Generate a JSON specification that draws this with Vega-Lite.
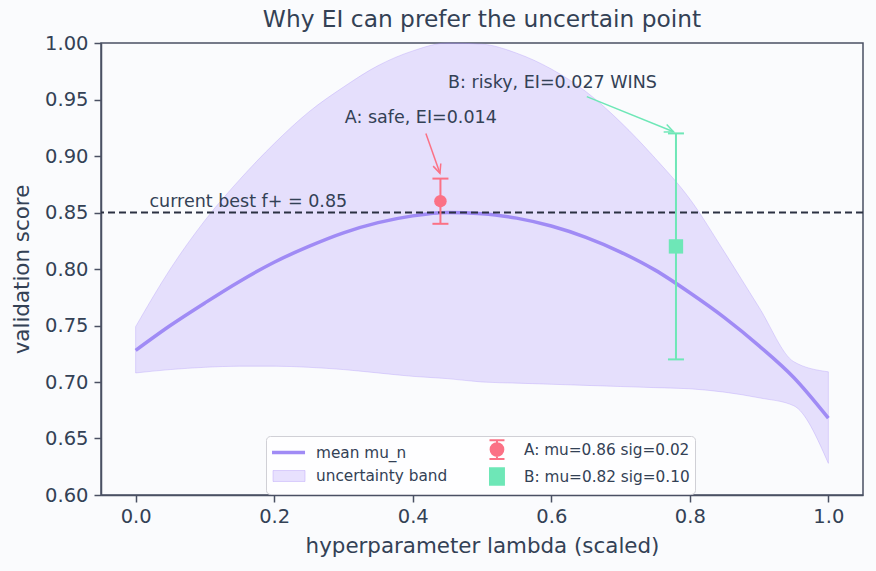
{
  "$schema": "https://vega.github.io/schema/vega-lite/v6.json",
  "width": 762,
  "height": 452,
  "autosize": {"type": "none"},
  "padding": {"left": 101, "top": 43, "right": 13, "bottom": 76},
  "background": "#fafbfd",
  "title": {
    "text": "Why EI can prefer the uncertain point",
    "font": "DejaVu Sans",
    "fontSize": 23.3,
    "fontWeight": "normal",
    "color": "#334155",
    "frame": "group",
    "anchor": "middle",
    "baseline": "bottom",
    "offset": 8,
    "dy": 30
  },
  "resolve": {"legend": {"color": "independent"}},
  "config": {
    "view": {"stroke": "#4a5063", "strokeWidth": 1.5},
    "font": "DejaVu Sans",
    "axis": {
      "grid": false,
      "domainColor": "#4a5063",
      "domainWidth": 1.5,
      "tickColor": "#4a5063",
      "tickWidth": 1.5,
      "tickSize": 7,
      "labelColor": "#334155",
      "titleColor": "#334155",
      "labelFont": "DejaVu Sans",
      "titleFont": "DejaVu Sans",
      "labelFontSize": 19.5,
      "titleFontSize": 21.4,
      "titleFontWeight": "normal",
      "labelOverlap": false,
      "labelFlush": false
    },
    "legend": {
      "orient": "none",
      "legendX": 165,
      "legendY": 393,
      "columns": 2,
      "columnPadding": 31,
      "rowPadding": 1,
      "padding": 5,
      "symbolSize": 225,
      "symbolOpacity": 1,
      "labelOffset": 26,
      "labelLimit": 400,
      "labelFont": "DejaVu Sans",
      "labelFontSize": 15.3,
      "labelColor": "#334155",
      "fillColor": "rgba(255,255,255,0.8)",
      "strokeColor": "#d0d0d6",
      "cornerRadius": 4
    }
  },
  "datasets": {
    "curve": [
      {"x": 0.00, "mu": 0.728, "hi": 0.749, "lo": 0.708},
      {"x": 0.05, "mu": 0.750, "hi": 0.800, "lo": 0.711},
      {"x": 0.10, "mu": 0.770, "hi": 0.843, "lo": 0.713},
      {"x": 0.15, "mu": 0.789, "hi": 0.879, "lo": 0.714},
      {"x": 0.20, "mu": 0.806, "hi": 0.911, "lo": 0.714},
      {"x": 0.25, "mu": 0.820, "hi": 0.939, "lo": 0.713},
      {"x": 0.30, "mu": 0.832, "hi": 0.961, "lo": 0.711},
      {"x": 0.35, "mu": 0.841, "hi": 0.980, "lo": 0.708},
      {"x": 0.40, "mu": 0.847, "hi": 0.993, "lo": 0.705},
      {"x": 0.45, "mu": 0.850, "hi": 1.000, "lo": 0.703},
      {"x": 0.50, "mu": 0.849, "hi": 0.999, "lo": 0.700},
      {"x": 0.55, "mu": 0.845, "hi": 0.991, "lo": 0.699},
      {"x": 0.60, "mu": 0.838, "hi": 0.977, "lo": 0.698},
      {"x": 0.65, "mu": 0.828, "hi": 0.957, "lo": 0.697},
      {"x": 0.70, "mu": 0.815, "hi": 0.930, "lo": 0.696},
      {"x": 0.75, "mu": 0.799, "hi": 0.898, "lo": 0.695},
      {"x": 0.80, "mu": 0.779, "hi": 0.862, "lo": 0.694},
      {"x": 0.85, "mu": 0.757, "hi": 0.815, "lo": 0.691},
      {"x": 0.90, "mu": 0.732, "hi": 0.766, "lo": 0.686},
      {"x": 0.95, "mu": 0.704, "hi": 0.718, "lo": 0.679},
      {"x": 1.00, "mu": 0.668, "hi": 0.709, "lo": 0.628}
    ],
    "obs": [
      {"x": 0.44, "mu": 0.86, "lo": 0.84, "hi": 0.88, "series": "A: mu=0.86 sig=0.02"},
      {"x": 0.78, "mu": 0.82, "lo": 0.72, "hi": 0.92, "series": "B: mu=0.82 sig=0.10"}
    ],
    "legendrows": [
      {"series": "mean mu_n"},
      {"series": "uncertainty band"},
      {"series": "A: mu=0.86 sig=0.02"},
      {"series": "B: mu=0.82 sig=0.10"}
    ],
    "notes": [
      {"x": 0.302, "y": 0.934, "label": "A: safe, EI=0.014"},
      {"x": 0.451, "y": 0.965, "label": "B: risky, EI=0.027 WINS"},
      {"x": 0.02, "y": 0.859, "label": "current best f+ = 0.85"}
    ],
    "arrows": [
      {"who": "A", "x0": 0.419, "y0": 0.920, "x1": 0.4393, "y1": 0.8847, "series": "A: mu=0.86 sig=0.02"},
      {"who": "B", "x0": 0.6513, "y0": 0.9525, "x1": 0.7765, "y1": 0.9215, "series": "B: mu=0.82 sig=0.10"}
    ],
    "best": [{"f": 0.85}]
  },
  "layer": [
    {
      "data": {"name": "curve"},
      "mark": {"type": "area", "interpolate": "monotone", "color": "#a78bfa", "fillOpacity": 0.25, "stroke": "#a78bfa", "strokeOpacity": 0.3, "strokeWidth": 1},
      "encoding": {
        "x": {
          "field": "x", "type": "quantitative", "title": "hyperparameter lambda (scaled)",
          "scale": {"domain": [-0.05, 1.05], "nice": false, "zero": false},
          "axis": {"values": [0, 0.2, 0.4, 0.6, 0.8, 1.0], "format": ".1f", "labelPadding": 5, "titlePadding": 10}
        },
        "y": {
          "field": "lo", "type": "quantitative", "title": "validation score",
          "scale": {"domain": [0.6, 1.0], "nice": false, "zero": false},
          "axis": {"values": [0.6, 0.65, 0.7, 0.75, 0.8, 0.85, 0.9, 0.95, 1.0], "format": ".2f", "labelPadding": 6, "titlePadding": 12}
        },
        "y2": {"field": "hi"}
      }
    },
    {
      "data": {"name": "curve"},
      "mark": {"type": "line", "interpolate": "monotone", "color": "#a08bf5", "strokeWidth": 3.5},
      "encoding": {
        "x": {"field": "x", "type": "quantitative", "title": "hyperparameter lambda (scaled)"},
        "y": {"field": "mu", "type": "quantitative", "title": "validation score"}
      }
    },
    {
      "data": {"name": "best"},
      "mark": {"type": "rule", "color": "#2b3142", "strokeWidth": 2, "strokeDash": [7, 4]},
      "encoding": {
        "y": {"field": "f", "type": "quantitative", "title": "validation score"}
      }
    },
    {
      "data": {"name": "obs"},
      "mark": {"type": "rule", "strokeWidth": 2, "opacity": 1},
      "encoding": {
        "x": {"field": "x", "type": "quantitative", "title": "hyperparameter lambda (scaled)"},
        "y": {"field": "lo", "type": "quantitative", "title": "validation score"},
        "y2": {"field": "hi"},
        "color": {"field": "series", "type": "nominal", "legend": null,
          "scale": {"domain": ["A: mu=0.86 sig=0.02", "B: mu=0.82 sig=0.10"], "range": ["#fb7185", "#6ee7b7"]}}
      }
    },
    {
      "data": {"name": "obs"},
      "mark": {"type": "tick", "orient": "horizontal", "size": 16, "thickness": 2, "opacity": 1},
      "encoding": {
        "x": {"field": "x", "type": "quantitative", "title": "hyperparameter lambda (scaled)"},
        "y": {"field": "lo", "type": "quantitative", "title": "validation score"},
        "color": {"field": "series", "type": "nominal", "legend": null}
      }
    },
    {
      "data": {"name": "obs"},
      "mark": {"type": "tick", "orient": "horizontal", "size": 16, "thickness": 2, "opacity": 1},
      "encoding": {
        "x": {"field": "x", "type": "quantitative", "title": "hyperparameter lambda (scaled)"},
        "y": {"field": "hi", "type": "quantitative", "title": "validation score"},
        "color": {"field": "series", "type": "nominal", "legend": null}
      }
    },
    {
      "data": {"name": "obs"},
      "transform": [{"filter": "datum.series === 'B: mu=0.82 sig=0.10'"}],
      "mark": {"type": "point", "filled": true, "shape": "square", "size": 206, "opacity": 1},
      "encoding": {
        "x": {"field": "x", "type": "quantitative", "title": "hyperparameter lambda (scaled)"},
        "y": {"field": "mu", "type": "quantitative", "title": "validation score"},
        "color": {"field": "series", "type": "nominal", "legend": null}
      }
    },
    {
      "data": {"name": "obs"},
      "transform": [{"filter": "datum.series === 'A: mu=0.86 sig=0.02'"}],
      "mark": {"type": "point", "filled": true, "shape": "circle", "size": 156, "opacity": 1},
      "encoding": {
        "x": {"field": "x", "type": "quantitative", "title": "hyperparameter lambda (scaled)"},
        "y": {"field": "mu", "type": "quantitative", "title": "validation score"},
        "color": {"field": "series", "type": "nominal", "legend": null}
      }
    },
    {
      "data": {"name": "legendrows"},
      "mark": {"type": "point", "filled": true, "opacity": 0},
      "encoding": {
        "fill": {"field": "series", "type": "nominal", "title": null,
          "scale": {"domain": ["mean mu_n", "uncertainty band", "A: mu=0.86 sig=0.02", "B: mu=0.82 sig=0.10"], "range": ["transparent", "rgba(167,139,250,0.25)", "#fb7185", "#6ee7b7"]}},
        "stroke": {"field": "series", "type": "nominal", "title": null,
          "scale": {"domain": ["mean mu_n", "uncertainty band", "A: mu=0.86 sig=0.02", "B: mu=0.82 sig=0.10"], "range": ["#a08bf5", "rgba(167,139,250,0.35)", "#fb7185", "#6ee7b7"]}},
        "shape": {"field": "series", "type": "nominal", "title": null,
          "scale": {"domain": ["mean mu_n", "uncertainty band", "A: mu=0.86 sig=0.02", "B: mu=0.82 sig=0.10"], "range": ["M-1.13,0H3.27", "M-1,-0.73H3.27V0.73H-1Z", "M1.98,0A0.85,0.85 0 1,1 0.28,0A0.85,0.85 0 1,1 1.98,0Z M1.13,-1.25V1.25 M0.13,-1.25H2.13 M0.13,1.25H2.13", "M0.2,-1.1H2.06V1.1H0.2Z"]}},
        "strokeWidth": {"field": "series", "type": "nominal", "title": null,
          "scale": {"type": "ordinal", "domain": ["mean mu_n", "uncertainty band", "A: mu=0.86 sig=0.02", "B: mu=0.82 sig=0.10"], "range": [3.5, 1, 2, 2]}}
      }
    },
    {
      "data": {"name": "arrows"},
      "mark": {"type": "rule", "strokeWidth": 1.5, "opacity": 1},
      "encoding": {
        "x": {"field": "x0", "type": "quantitative", "title": "hyperparameter lambda (scaled)"},
        "y": {"field": "y0", "type": "quantitative", "title": "validation score"},
        "x2": {"field": "x1"},
        "y2": {"field": "y1"},
        "color": {"field": "series", "type": "nominal", "legend": null}
      }
    },
    {
      "data": {"name": "arrows"},
      "transform": [{"filter": "datum.who === 'A'"}],
      "mark": {"type": "point", "filled": false, "shape": "M-1,-0.45L0,0L-1,0.45", "size": 324, "strokeWidth": 1.5, "opacity": 1, "angle": 70.7},
      "encoding": {
        "x": {"field": "x1", "type": "quantitative", "title": "hyperparameter lambda (scaled)"},
        "y": {"field": "y1", "type": "quantitative", "title": "validation score"},
        "color": {"field": "series", "type": "nominal", "legend": null}
      }
    },
    {
      "data": {"name": "arrows"},
      "transform": [{"filter": "datum.who === 'B'"}],
      "mark": {"type": "point", "filled": false, "shape": "M-1,-0.45L0,0L-1,0.45", "size": 324, "strokeWidth": 1.5, "opacity": 1, "angle": 22},
      "encoding": {
        "x": {"field": "x1", "type": "quantitative", "title": "hyperparameter lambda (scaled)"},
        "y": {"field": "y1", "type": "quantitative", "title": "validation score"},
        "color": {"field": "series", "type": "nominal", "legend": null}
      }
    },
    {
      "data": {"name": "notes"},
      "mark": {"type": "text", "font": "DejaVu Sans", "fontSize": 17.5, "color": "#334155", "align": "left", "baseline": "middle"},
      "encoding": {
        "x": {"field": "x", "type": "quantitative", "title": "hyperparameter lambda (scaled)"},
        "y": {"field": "y", "type": "quantitative", "title": "validation score"},
        "text": {"field": "label"}
      }
    }
  ]
}
